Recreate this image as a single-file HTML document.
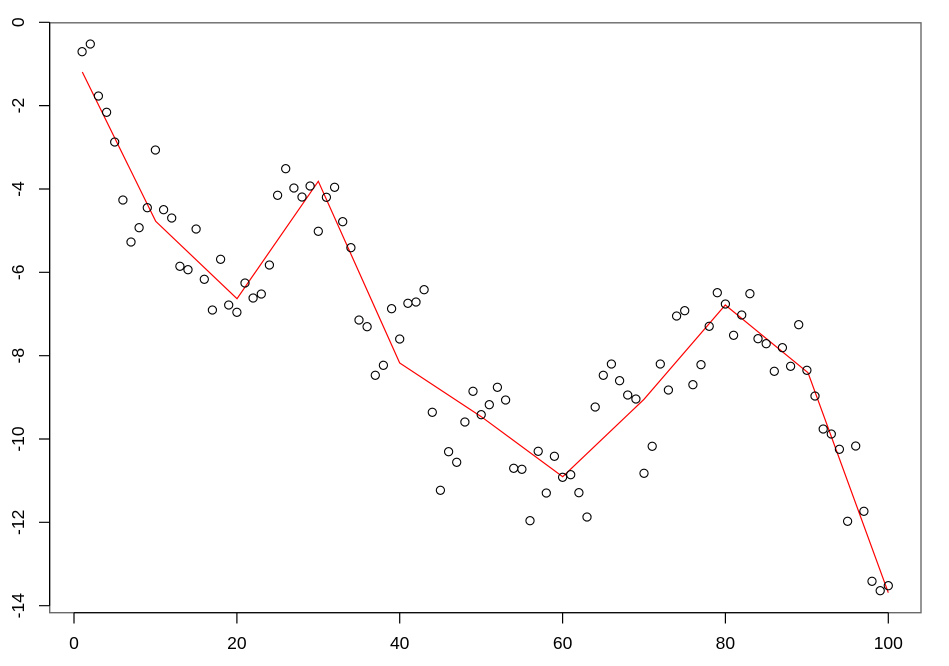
<!DOCTYPE html>
<html>
<head>
<meta charset="utf-8">
<style>
html, body { margin: 0; padding: 0; background: #ffffff; }
svg { display: block; }
text { font-family: "Liberation Sans", Arial, sans-serif; font-size: 17.5px; fill: #000; }
</style>
</head>
<body>
<svg width="949" height="666" viewBox="0 0 949 666" xmlns="http://www.w3.org/2000/svg">
<defs>
<marker id="pt" markerUnits="userSpaceOnUse" markerWidth="12" markerHeight="12" refX="6" refY="6" viewBox="0 0 12 12" overflow="visible">
<circle cx="6" cy="6" r="4.1" fill="none" stroke="#000" stroke-width="1.1"/>
</marker>
</defs>
<rect x="0" y="0" width="949" height="666" fill="#ffffff"/>
<rect x="49.7" y="22.8" width="871.3" height="589.9" fill="none" stroke="#6a6a6a" stroke-width="1.4"/>
<path d="M49.6 22.3V605.7M74 612.7H888.3M39 22.3H49.6M39 105.6H49.6M39 189H49.6M39 272.3H49.6M39 355.7H49.6M39 439H49.6M39 522.3H49.6M39 605.7H49.6M74 612.7V623.5M236.9 612.7V623.5M399.7 612.7V623.5M562.6 612.7V623.5M725.4 612.7V623.5M888.3 612.7V623.5" stroke="#000" stroke-width="1.2" fill="none"/>
<g text-anchor="middle">
<text transform="translate(24,22.3) rotate(-90)">0</text>
<text transform="translate(24,105.6) rotate(-90)">-2</text>
<text transform="translate(24,189.0) rotate(-90)">-4</text>
<text transform="translate(24,272.3) rotate(-90)">-6</text>
<text transform="translate(24,355.7) rotate(-90)">-8</text>
<text transform="translate(24,439.0) rotate(-90)">-10</text>
<text transform="translate(24,522.3) rotate(-90)">-12</text>
<text transform="translate(24,605.7) rotate(-90)">-14</text>
<text x="74" y="649">0</text>
<text x="236.9" y="649">20</text>
<text x="399.7" y="649">40</text>
<text x="562.6" y="649">60</text>
<text x="725.4" y="649">80</text>
<text x="888.3" y="649">100</text>
</g>
<polyline fill="none" stroke="#ff0000" stroke-width="1.2" points="82.3,72 155.7,221.3 237,298.7 318.3,181.3 399.7,363 481.3,416.7 562.7,476.7 644,399.3 725.3,305 808,372.7 888.3,592.7"/>
<polyline fill="none" stroke="none" marker-start="url(#pt)" marker-mid="url(#pt)" marker-end="url(#pt)" points="82.1,51.7 90.3,44 98.4,96 106.6,112.3 114.7,142 122.9,200 131,242 139.1,227.7 147.3,207.7 155.4,150 163.6,209.7 171.7,218 179.9,266.3 188,269.7 196.1,229 204.3,279.3 212.4,310 220.6,259.3 228.7,305 236.9,312.3 245,283 253.1,298 261.3,294 269.4,265 277.6,195.3 285.7,168.7 293.9,188 302,197 310.1,186 318.3,231.3 326.4,197.3 334.6,187.3 342.7,221.7 350.9,247.7 359,320 367.1,326.7 375.3,375.3 383.4,365.3 391.6,308.7 399.7,339 407.9,303.3 416,302 424.1,289.7 432.3,412.3 440.4,490.3 448.6,451.7 456.7,462.3 464.9,422 473,391.3 481.2,414.7 489.3,404.7 497.4,387.3 505.6,400 513.7,468.3 521.9,469.3 530,520.7 538.2,451.3 546.3,493 554.4,456.3 562.6,477.3 570.7,474.7 578.9,492.7 587,517 595.2,407 603.3,375.3 611.4,364 619.6,380.7 627.7,395 635.9,399 644,473.3 652.2,446.3 660.3,364 668.4,390 676.6,316 684.7,310.7 692.9,384.7 701,364.7 709.2,326.3 717.3,292.7 725.4,304 733.6,335.3 741.7,315 749.9,293.7 758,338.7 766.2,343.7 774.3,371.3 782.4,347.7 790.6,366.3 798.7,324.7 806.9,370.3 815,396 823.2,429 831.3,434 839.4,449.3 847.6,521.3 855.7,446 863.9,511.3 872,581.3 880.2,590.7 888.3,585.7"/>
</svg>
</body>
</html>
